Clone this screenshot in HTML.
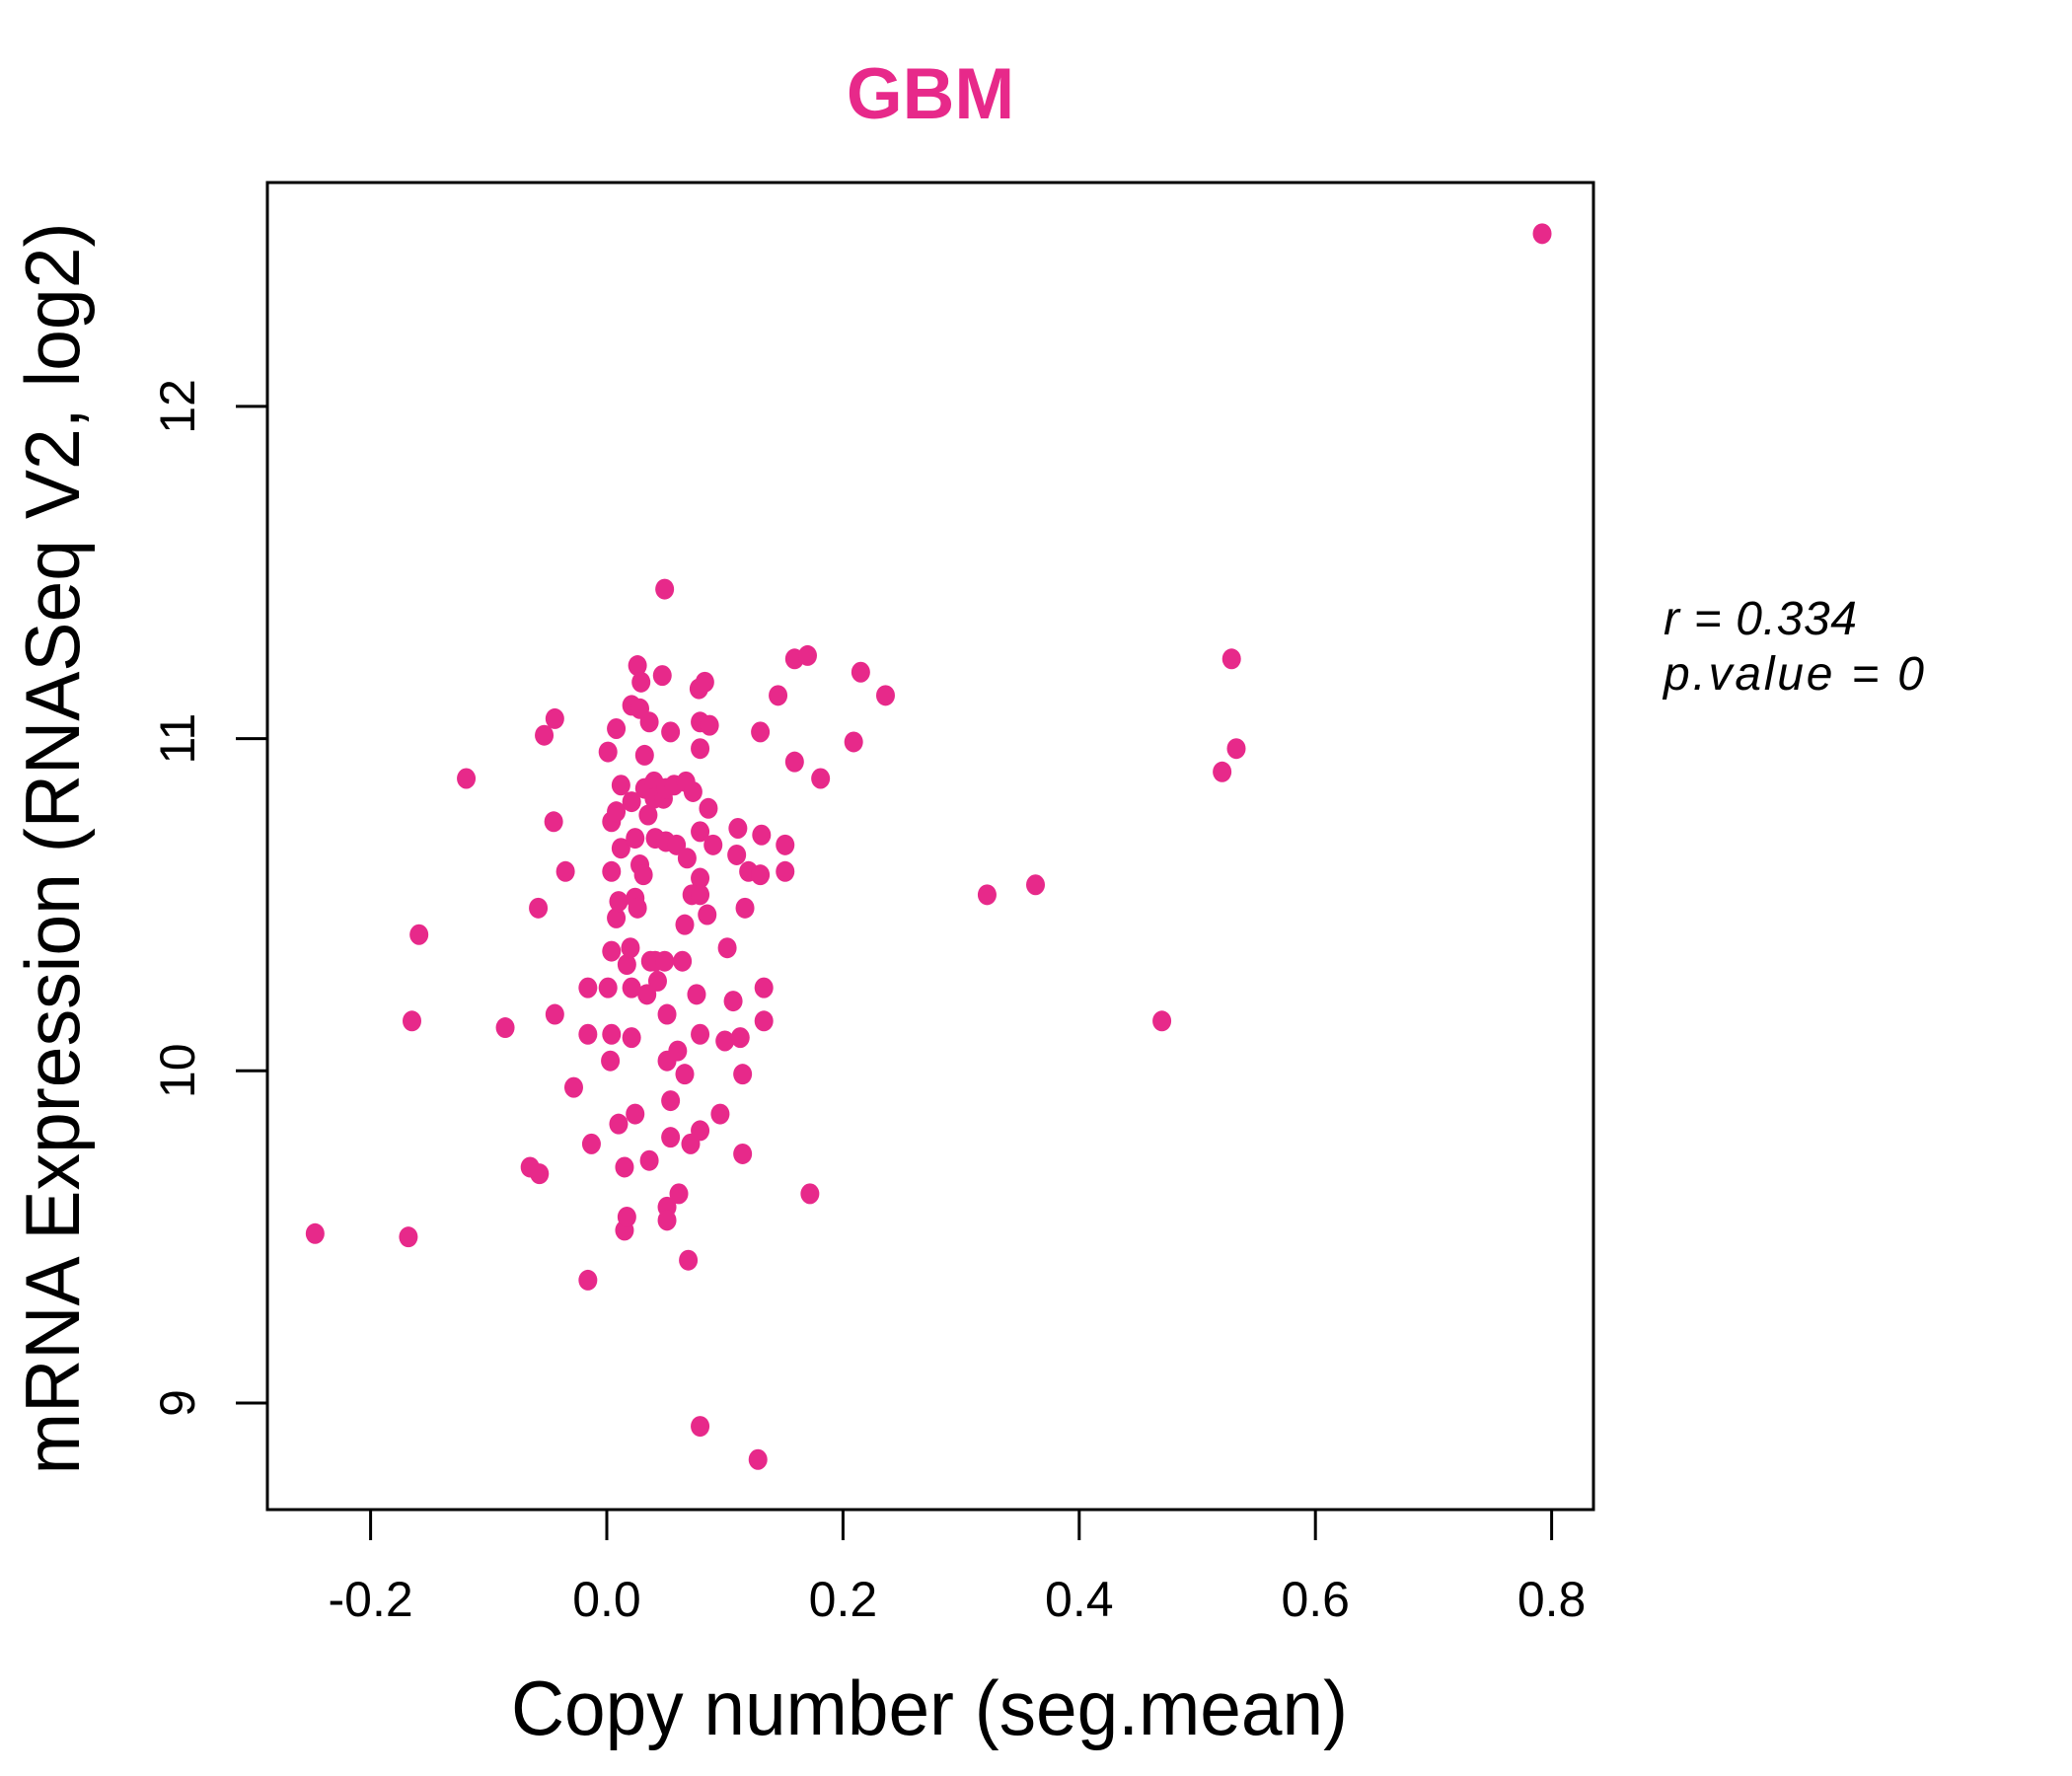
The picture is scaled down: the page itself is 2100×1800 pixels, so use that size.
<!DOCTYPE html>
<html><head><meta charset="utf-8"><style>
html,body{margin:0;padding:0;background:#fff;}
svg{display:block;font-family:"Liberation Sans",Arial,sans-serif;}
</style></head><body>
<svg id="chart" width="2100" height="1800" viewBox="0 0 2100 1800">
<text x="943" y="120" text-anchor="middle" font-size="73" font-weight="bold" fill="#E7298A">GBM</text>
<rect x="271" y="185" width="1344" height="1345" fill="none" stroke="#000" stroke-width="3"/>
<g id="xaxis"></g>
<g id="yaxis"></g>
<g id="points"></g>
<text x="942" y="1758" text-anchor="middle" font-size="78" textLength="848" lengthAdjust="spacingAndGlyphs">Copy number (seg.mean)</text>
<text transform="translate(80,860) rotate(-90)" text-anchor="middle" font-size="78" textLength="1269" lengthAdjust="spacingAndGlyphs">mRNA Expression (RNASeq V2, log2)</text>
<text x="1686" y="643" font-size="48" font-style="italic" textLength="196">r = 0.334</text>
<text x="1686" y="699" font-size="48" font-style="italic" textLength="264">p.value = 0</text>
</svg>
<script>
const xTicks=[-0.2,0.0,0.2,0.4,0.6,0.8];
const xTickLabels=["-0.2","0.0","0.2","0.4","0.6","0.8"];
const yTicks=[9,10,11,12];
const yTickLabels=["9","10","11","12"];
const xValues=[0.792,0.049,0.529,0.533,0.521,0.363,0.322,0.470,-0.247,-0.168,-0.159,-0.165,-0.119,-0.086,-0.058,-0.053,-0.044,-0.045,-0.035,-0.044,-0.028,-0.065,-0.057,-0.016,-0.013,-0.016,-0.016,0.001,0.003,0.004,0.004,0.004,0.001,0.008,0.004,0.008,0.008,0.010,0.012,0.012,0.010,0.015,0.015,0.017,0.017,0.020,0.021,0.021,0.024,0.024,0.026,0.021,0.026,0.029,0.028,0.021,0.024,0.028,0.031,0.032,0.032,0.035,0.036,0.037,0.034,0.036,0.040,0.040,0.041,0.041,0.043,0.047,0.048,0.050,0.049,0.050,0.051,0.051,0.051,0.051,0.054,0.054,0.054,0.057,0.059,0.060,0.061,0.064,0.066,0.066,0.067,0.068,0.069,0.071,0.072,0.073,0.076,0.078,0.079,0.079,0.079,0.079,0.079,0.079,0.079,0.083,0.087,0.086,0.085,0.090,0.079,0.096,0.100,0.102,0.107,0.110,0.111,0.113,0.115,0.115,0.117,0.120,0.128,0.130,0.130,0.131,0.133,0.133,0.145,0.151,0.151,0.159,0.159,0.170,0.172,0.181,0.209,0.215,0.236];
const yValues=[12.52,11.45,11.24,10.97,10.90,10.56,10.53,10.15,9.51,9.50,10.41,10.15,10.88,10.13,10.49,11.01,11.06,10.75,10.60,10.17,9.95,9.71,9.69,9.37,9.78,10.25,10.11,10.25,10.03,10.11,10.36,10.60,10.96,11.03,10.75,10.78,10.46,10.51,10.67,10.86,9.84,9.71,9.52,9.56,10.32,10.37,10.25,10.10,9.87,10.52,10.49,11.10,11.22,11.17,11.09,10.81,10.70,10.62,10.59,10.95,10.85,10.77,11.05,10.33,10.23,9.73,10.87,10.82,10.70,10.33,10.27,11.19,10.82,10.85,10.33,10.69,10.17,10.03,9.59,9.55,9.91,11.02,9.80,10.86,10.68,10.06,9.63,10.33,9.99,10.44,10.87,10.64,9.43,9.78,10.53,10.84,10.23,11.15,11.05,10.72,10.58,10.53,10.97,10.11,9.82,11.17,11.04,10.79,10.47,10.68,8.93,9.87,10.09,10.37,10.21,10.65,10.73,10.10,9.75,9.99,10.49,10.60,8.83,11.02,10.59,10.71,10.25,10.15,11.13,10.60,10.68,10.93,11.24,11.25,9.63,10.88,10.99,11.20,11.13];
const NS='http://www.w3.org/2000/svg';
function xScale(v){return 615+v*1197;}
function yScale(v){return 1422-(v-9)*336.7;}
function mk(tag,attrs,parent){const e=document.createElementNS(NS,tag);for(const k in attrs)e.setAttribute(k,attrs[k]);parent.appendChild(e);return e;}
const gx=document.getElementById('xaxis'),gy=document.getElementById('yaxis'),gp=document.getElementById('points');
xTicks.forEach((t,i)=>{
  const l=mk('line',{x1:xScale(t),x2:xScale(t),y1:1530,y2:1561,stroke:'#000','stroke-width':3},gx);
  
  
  const tx=mk('text',{x:xScale(t),y:1638,'text-anchor':'middle','font-size':50},gx);
  tx.textContent=xTickLabels[i];
  
  
});
yTicks.forEach((t,i)=>{
  const l=mk('line',{x1:239,x2:271,y1:yScale(t),y2:yScale(t),stroke:'#000','stroke-width':3},gy);
  
  
  const tx=mk('text',{transform:'translate(197,'+yScale(t)+') rotate(-90)','text-anchor':'middle','font-size':50},gy);
  tx.textContent=yTickLabels[i];
  
  
});
xValues.forEach((v,i)=>{
  const c=mk('ellipse',{cx:xScale(v),cy:yScale(yValues[i]),rx:9.5,ry:10.5,fill:'#E7298A'},gp);
  
  
});
</script>
</body></html>
